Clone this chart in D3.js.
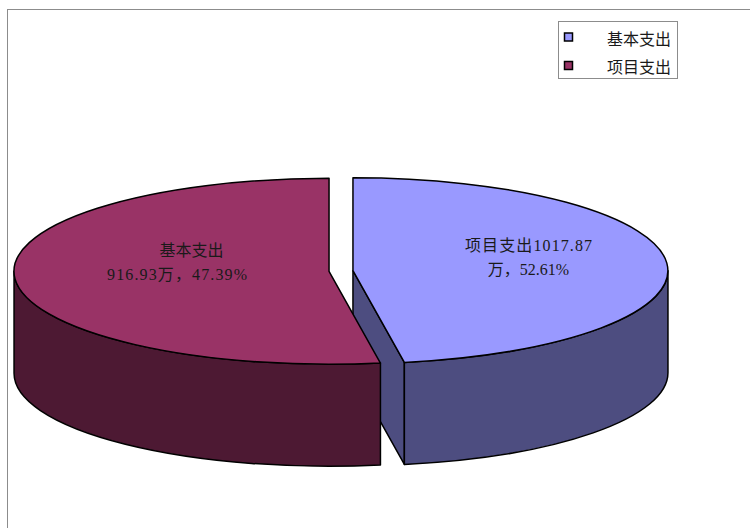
<!DOCTYPE html>
<html>
<head>
<meta charset="utf-8">
<script src="https://cdn.jsdelivr.net/npm/d3@7"></script>
<style>
  html, body { margin: 0; padding: 0; background: #fff; }
  svg { display: block; }
</style>
</head>
<body>
<svg id="chart" width="750" height="528"></svg>
<script>
// Budget split: two spending categories (units: 万元)
const categories = ["基本支出", "项目支出"];
const values = [916.93, 1017.87];
const topColors = ["#9999FF", "#993366"];
const sideColors = ["#4D4D80", "#4D1933"];

const W = 750, H = 528;
const svg = d3.select("#chart");

// frame of the chart area
svg.append("line").attr("x1", 7).attr("y1", 9.5).attr("x2", W).attr("y2", 9.5)
  .attr("stroke", "#8c8c8c").attr("stroke-width", 1);
svg.append("line").attr("x1", 7.5).attr("y1", 9).attr("x2", 7.5).attr("y2", H)
  .attr("stroke", "#8c8c8c").attr("stroke-width", 1);

// 3D pie geometry: ellipse radii, wall depth and explode distance
const cx = 341, cy = 271, rx = 315, ry = 93, depth = 102, explode = 12;

const total = d3.sum(values);
const pct = d3.format(".2f");

const arcs = d3.pie().sort(null).startAngle(0).endAngle(2 * Math.PI)(values)
  .map((a, i) => {
    const mid = (a.startAngle + a.endAngle) / 2;
    return {
      ...a, i,
      c: [cx + explode * Math.sin(mid), cy - explode * Math.cos(mid) * ry / rx]
    };
  });

const pt = (c, t, dy = 0) => [c[0] + rx * Math.sin(t), c[1] - ry * Math.cos(t) + dy];
const P = p => p[0].toFixed(2) + "," + p[1].toFixed(2);

const g = svg.append("g")
  .attr("stroke", "#000").attr("stroke-width", 1.5).attr("stroke-linejoin", "round");

// radial cut faces that turn toward the viewer
arcs.forEach(a => {
  const faces = [];
  if (Math.sin(a.endAngle) > 1e-6) faces.push(a.endAngle);
  if (Math.sin(a.startAngle) < -1e-6) faces.push(a.startAngle);
  faces.forEach(t => {
    const p = pt(a.c, t);
    g.append("path")
      .attr("d", `M${P(a.c)}L${P(p)}L${P([p[0], p[1] + depth])}L${P([a.c[0], a.c[1] + depth])}Z`)
      .attr("fill", sideColors[a.i]);
  });
});

// outer curved walls along the front half of the ellipse
arcs.forEach(a => {
  const s = Math.max(a.startAngle, Math.PI / 2);
  const e = Math.min(a.endAngle, 3 * Math.PI / 2);
  if (e <= s) return;
  const p0 = pt(a.c, s), p1 = pt(a.c, e);
  g.append("path")
    .attr("d", `M${P(p0)}A${rx},${ry} 0 0 1 ${P(p1)}` +
               `L${P(pt(a.c, e, depth))}A${rx},${ry} 0 0 0 ${P(pt(a.c, s, depth))}Z`)
    .attr("fill", sideColors[a.i]);
});

// top faces
arcs.forEach(a => {
  const large = (a.endAngle - a.startAngle) > Math.PI ? 1 : 0;
  g.append("path")
    .attr("d", `M${P(a.c)}L${P(pt(a.c, a.startAngle))}` +
               `A${rx},${ry} 0 ${large} 1 ${P(pt(a.c, a.endAngle))}Z`)
    .attr("fill", topColors[a.i]);
});

// data labels (two lines each), positioned relative to the pie centre
const labelFont = "'Liberation Serif', 'Noto Sans CJK SC', serif";
const labelLines = [
  [categories[0], `${values[0]}万，${pct(values[0] / total * 100)}%`],
  [`${categories[1]}${values[1]}`, `万，${pct(values[1] / total * 100)}%`]
];
const labelPos = [
  [{ dx: -149.5, dy: -15 }, { dx: -164, dy: 9, len: 140 }],
  [{ dx: 187.5, dy: -20, len: 127 }, { dx: 187.5, dy: 4 }]
];
labelLines.forEach((lines, i) => {
  lines.forEach((txt, j) => {
    const lp = labelPos[i][j];
    const t = svg.append("text")
      .attr("x", cx + lp.dx)
      .attr("y", cy + lp.dy)
      .attr("text-anchor", "middle")
      .attr("font-family", labelFont)
      .attr("font-size", 16)
      .attr("fill", "#1a1a1a")
      .text(txt);
    if (lp.len) t.attr("textLength", lp.len).attr("lengthAdjust", "spacing");
  });
});

// legend
const legend = svg.append("g");
legend.append("rect").attr("x", 558.5).attr("y", 21.5).attr("width", 119).attr("height", 57)
  .attr("fill", "#fff").attr("stroke", "#8c8c8c").attr("stroke-width", 1);
const rowY = d3.scalePoint().domain(categories).range([37.5, 66]);
categories.forEach((cat, i) => {
  legend.append("rect")
    .attr("x", 564.5).attr("y", rowY(cat) - 4.5).attr("width", 8).attr("height", 8)
    .attr("fill", topColors[i]).attr("stroke", "#000").attr("stroke-width", 1.5);
  legend.append("text")
    .attr("x", 607).attr("y", rowY(cat) + 7)
    .attr("font-family", labelFont).attr("font-size", 16).attr("fill", "#1a1a1a")
    .text(cat);
});
</script>
</body>
</html>
